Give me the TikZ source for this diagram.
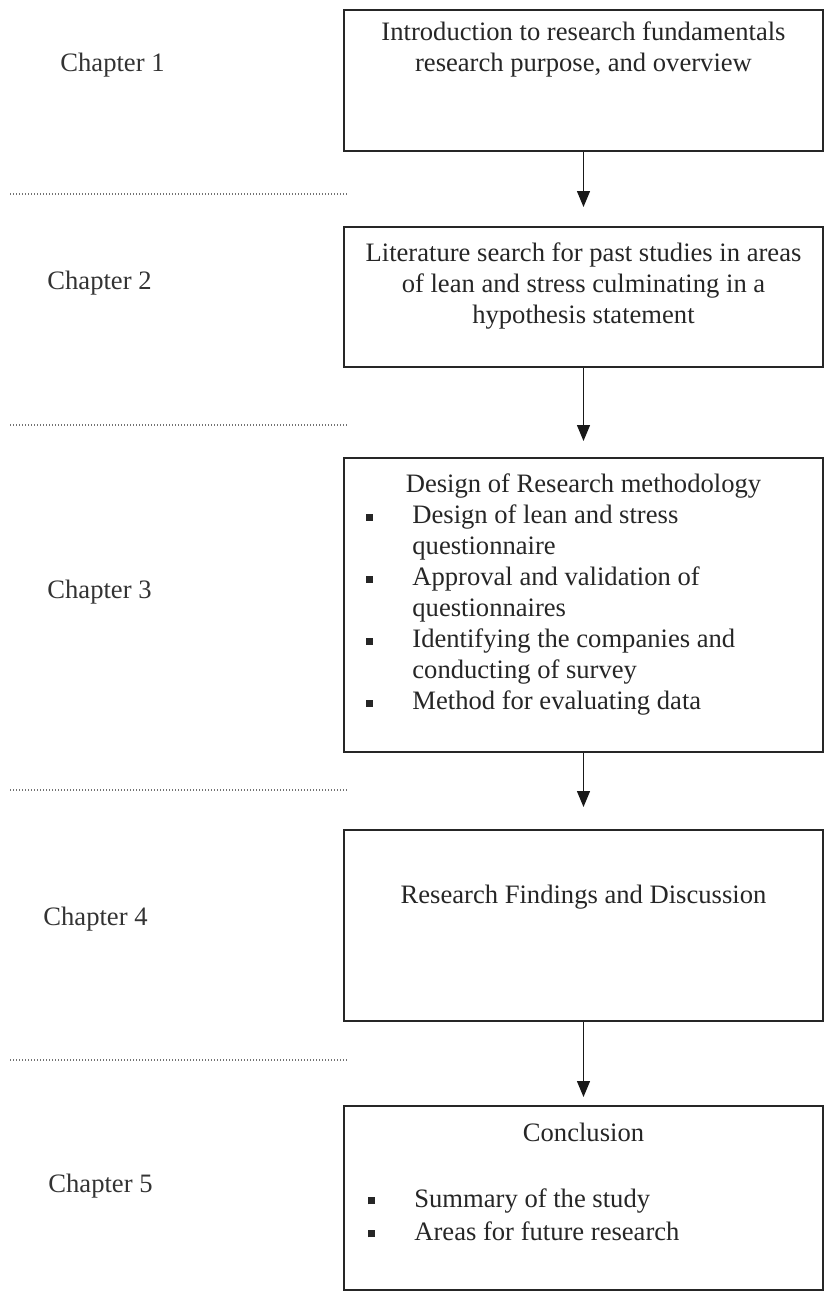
\documentclass[tikz,border=0pt]{standalone}
\usepackage{fontspec}
\setmainfont{Liberation Serif}
\usetikzlibrary{math,arrows.meta}

\tikzset{
	chapbox/.style={draw=black!85, line width=1pt, minimum width=239.5pt, inner sep=0pt},
	boxtext/.style={anchor=north, align=center, inner sep=0pt, text=black!85, font=\fontsize{13.3pt}{15.5pt}\selectfont},
	listtext/.style={anchor=north west, inner sep=0pt, text=black!85, font=\fontsize{13.3pt}{15.5pt}\selectfont},
	chaptext/.style={anchor=west, inner sep=0pt, text=black!80, font=\fontsize{13.3pt}{15.5pt}\selectfont},
	flowarrow/.style={-{Triangle[width=6.5pt, length=8pt]}, line width=0.65pt, black!90},
	sepline/.style={black!55, line width=0.6pt, dash pattern=on 0.6pt off 0.9pt},
}
\newcommand{\bulsq}{\rule[1.4pt]{3.5pt}{3.5pt}}

\begin{document}
\begin{tikzpicture}[x=0.5pt, y=-0.5pt]
	% Constants (pixel grid, y downwards)
	\tikzmath{
		\boxmid = 583.5; \sepleft = 10; \sepright = 347;
	}
	\useasboundingbox (0, 0) rectangle (825, 1296);

	% Chapter boxes
	\node[chapbox, minimum height=70.5pt] (intro) at (\boxmid, 80.5) {};
	\node[chapbox, minimum height=70pt] (litsearch) at (\boxmid, 297) {};
	\node[chapbox, minimum height=147pt] (method) at (\boxmid, 605) {};
	\node[chapbox, minimum height=95.5pt] (findings) at (\boxmid, 925.5) {};
	\node[chapbox, minimum height=92pt] (conclusion) at (\boxmid, 1198) {};

	% Box contents
	\node[boxtext] (introtext) at ([yshift=-6pt]intro.north) {Introduction to research fundamentals\\ research purpose, and overview};
	\node[boxtext] (littext) at ([yshift=-8pt]litsearch.north) {Literature search for past studies in areas\\ of lean and stress culminating in a\\ hypothesis statement};
	\node[boxtext] (methodtitle) at ([yshift=-8pt]method.north) {Design of Research methodology};
	\node[listtext] (methodlist) at ([xshift=11.25pt, yshift=-22.2pt]method.north west) {%
		\begin{tabular}{@{}p{23.25pt}@{}l@{}}
			\bulsq & Design of lean and stress\\
			       & questionnaire\\
			\bulsq & Approval and validation of\\
			       & questionnaires\\
			\bulsq & Identifying the companies and\\
			       & conducting of survey\\
			\bulsq & Method for evaluating data
		\end{tabular}};
	\node[boxtext] (findtext) at ([yshift=-28pt]findings.north) {Research Findings and Discussion};
	\node[boxtext] (conctitle) at ([yshift=-9pt]conclusion.north) {Conclusion};
	\node[listtext] (conclist) at ([xshift=12.25pt, yshift=-40pt]conclusion.north west) {%
		\begin{tabular}{@{}p{23.25pt}@{}l@{}}
			\bulsq & Summary of the study\\[1pt]
			\bulsq & Areas for future research
		\end{tabular}};

	% Chapter labels
	\node[chaptext] (chapone) at (60, 65) {Chapter 1};
	\node[chaptext] (chaptwo) at (47, 283) {Chapter 2};
	\node[chaptext] (chapthree) at (47, 592) {Chapter 3};
	\node[chaptext] (chapfour) at (43, 919) {Chapter 4};
	\node[chaptext] (chapfive) at (48, 1186) {Chapter 5};

	% Chapter separators
	\foreach \sepy in {194, 425, 790, 1060} {
		\draw[sepline] (\sepleft, \sepy) -- (\sepright, \sepy);
	}

	% Flow between chapters
	\draw[flowarrow, shorten >=9.5pt] (intro.south) -- (litsearch.north);
	\draw[flowarrow, shorten >=8pt] (litsearch.south) -- (method.north);
	\draw[flowarrow, shorten >=11pt] (method.south) -- (findings.north);
	\draw[flowarrow, shorten >=4pt] (findings.south) -- (conclusion.north);
\end{tikzpicture}
\end{document}
